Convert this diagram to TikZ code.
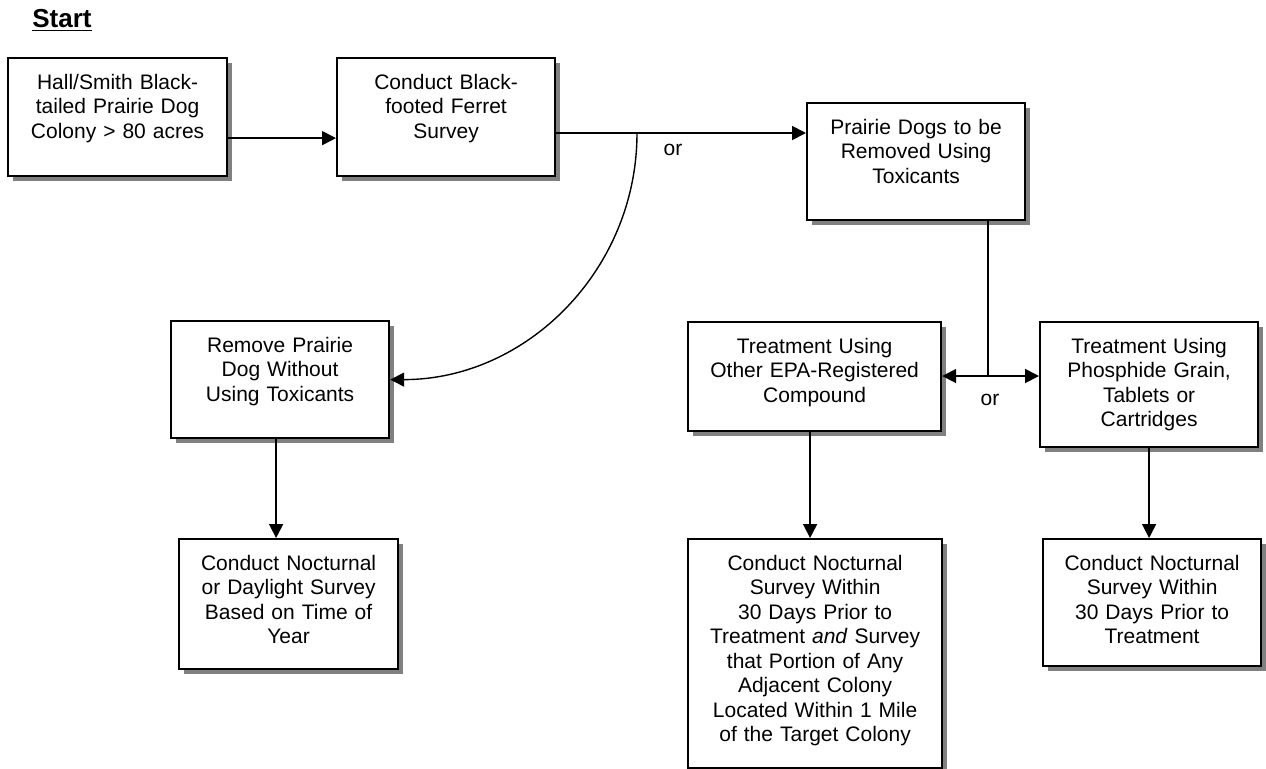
\documentclass[tikz,border=0pt]{standalone}
\usepackage{fontspec}
\setmainfont{Liberation Sans}
\usetikzlibrary{arrows.meta,shadows}
\begin{document}
\begin{tikzpicture}[x=0.5pt,y=0.5pt,
		font=\fontsize{10.5pt}{12.25pt}\selectfont,
		box/.style={draw,line width=1.1pt,fill=white,align=center,anchor=north west,
			inner xsep=0pt,inner ysep=0pt,text height=15.5pt,
			drop shadow={shadow xshift=2.5pt,shadow yshift=-2.5pt,fill=gray,opacity=1}},
		arr/.style={line width=0.9pt,-{Triangle[length=7pt,width=7pt]}}]
		\useasboundingbox (0,0) rectangle (1266,-768);
		\node[anchor=base west,inner sep=0pt,font=\fontsize{13pt}{15pt}\selectfont\bfseries] (start) at (32,-27) {\underline{Start}};
		
		\node[box,text width=109.5pt,text depth=43.5pt] (A) at (7,-57) {Hall/Smith Black-\\tailed Prairie Dog\\Colony > 80 acres};
		\node[box,text width=109pt,text depth=43.5pt] (B) at (336,-57) {Conduct Black-\\footed Ferret\\Survey};
		\node[box,text width=109pt,text depth=43pt] (C) at (806,-102) {Prairie Dogs to be\\Removed Using\\Toxicants};
		\node[box,text width=109pt,text depth=43pt] (D) at (170,-320) {Remove Prairie\\Dog Without\\Using Toxicants};
		\node[box,text width=126.5pt,text depth=39pt] (E) at (687,-321) {Treatment Using\\Other EPA-Registered\\Compound};
		\node[box,text width=109pt,text depth=47pt] (F) at (1039,-321) {Treatment Using\\Phosphide Grain,\\Tablets or\\Cartridges};
		\node[box,text width=109.5pt,text depth=49.5pt] (I) at (178,-538) {Conduct Nocturnal\\or Daylight Survey\\Based on Time of\\Year};
		\node[box,text width=127pt,text depth=99pt] (G) at (687,-538) {Conduct Nocturnal\\Survey Within\\30 Days Prior to\\Treatment \textit{and} Survey\\that Portion of Any\\Adjacent Colony\\Located Within 1 Mile\\of the Target Colony};
		\node[box,text width=109pt,text depth=48pt] (H) at (1042,-538) {Conduct Nocturnal\\Survey Within\\30 Days Prior to\\Treatment};
		
		\node (or1) at (673,-150) {or};
		\node (or2) at (990,-400) {or};
		\coordinate (split) at (637,-133);
		\coordinate (fork) at (988,-376);
		
		\draw[arr] ([yshift=-10.5pt]A.east) -- ([yshift=-10.5pt]A.east -| B.west);
		\draw[arr] (B.east |- split) -- (C.west |- split);
		\draw[arr,line width=0.7pt] (split) to[out=-90,in=0] (D.east);
		\draw[line width=0.9pt] (C.south -| fork) -- (fork);
		\draw[arr,{Triangle[length=7pt,width=7pt]}-{Triangle[length=7pt,width=7pt]}] (E.east |- fork) -- (F.west |- fork);
		\draw[arr] ([xshift=-2pt]D.south) -- ([xshift=-2pt]D.south |- I.north);
		\draw[arr] ([xshift=-2.25pt]E.south) -- ([xshift=-2.25pt]E.south |- G.north);
		\draw[arr] (F.south) -- (F.south |- H.north);
\end{tikzpicture}
\end{document}
